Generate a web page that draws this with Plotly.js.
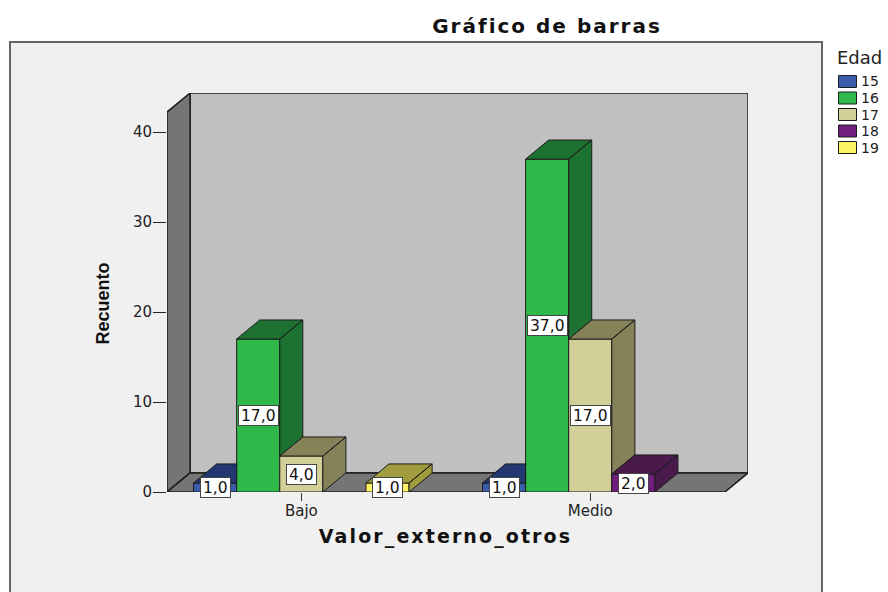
<!DOCTYPE html>
<html>
<head>
<meta charset="utf-8">
<script src="https://cdn.plot.ly/plotly-3.0.1.min.js"></script>
<style>
html,body{margin:0;padding:0;background:#fff;overflow:hidden}
#c{width:888px;height:592px}
.gtitle{letter-spacing:2px}
.xtitle{letter-spacing:2.1px;translate:-12px 0}
.ytitle{translate:0 11px}
</style>
</head>
<body>
<div id="c"></div>
<script>
// ---- data ----
const categories = ["Bajo", "Medio"];
const seriesNames = ["15", "16", "17", "18", "19"];
const edad15 = [1, 1];
const edad16 = [17, 37];
const edad17 = [4, 17];
const edad18 = [0, 2];
const edad19 = [1, 0];
const yTicks = [0, 10, 20, 30, 40];
const frontColors = ["#3b5cab", "#2fb94b", "#d3cf98", "#701f7c", "#fdf264"];
const depthColors = ["#233870", "#1d7232", "#858259", "#4b1a4c", "#a19d3e"];

// ---- chart geometry ----
const allSeries = [edad15, edad16, edad17, edad18, edad19];
const groupCenters = [3.116, 9.82];
const xMax = 13.48, yMax = 44.35;
const depthX = 0.535, depthY = 2.12;
const mL = 167, mR = 140, mT = 93, mB = 100;
const plotW = 888 - mL - mR, plotH = 592 - mT - mB;
const px = x => (x - mL) / plotW;
const py = y => (592 - mB - y) / plotH;
const ink = "#1c1c1c";
const font = "DejaVu Sans, sans-serif";
const fmt = v => v.toFixed(1).replace(".", ",");

const traces = [];
const annotations = [];

// front faces
allSeries.forEach((vals, s) => {
  const xs = [], ys = [];
  vals.forEach((v, g) => { if (v > 0) { xs.push(groupCenters[g] + s - 2); ys.push(v); } });
  traces.push({
    type: "bar", name: seriesNames[s], x: xs, y: ys, width: 1,
    marker: {color: frontColors[s], line: {color: ink, width: 1}},
    hoverinfo: "skip", showlegend: false
  });
});

// top and side faces
allSeries.forEach((vals, s) => {
  const xs = [], ys = [];
  vals.forEach((v, g) => {
    if (v <= 0) return;
    const l = groupCenters[g] + s - 2.5, r = l + 1;
    const next = s + 1 < allSeries.length ? allSeries[s + 1][g] : 0;
    if (next >= v) {
      xs.push(l, r, r, l + depthX, l, null);
      ys.push(v, v, v + depthY, v + depthY, v, null);
    } else {
      xs.push(l, r, r + depthX, l + depthX, l, null);
      ys.push(v, v, v + depthY, v + depthY, v, null);
      xs.push(r, r + depthX, r + depthX, r, r, null);
      ys.push(next, next + depthY, v + depthY, v, next, null);
    }
  });
  traces.push({
    type: "scatter", mode: "lines", x: xs, y: ys, fill: "toself", fillcolor: depthColors[s],
    line: {color: ink, width: 1}, showlegend: false, hoverinfo: "skip", connectgaps: false
  });
});

// value labels
allSeries.forEach((vals, s) => {
  vals.forEach((v, g) => {
    if (v <= 0) return;
    annotations.push({
      x: groupCenters[g] + s - 2, y: v / 2, xref: "x", yref: "y", text: fmt(v), showarrow: false,
      bgcolor: "#ffffff", bordercolor: "#444444", borderwidth: 1, borderpad: 2, height: 15,
      font: {family: font, size: 15.5, color: "#111"}
    });
  });
});

// walls, floor and the outer panel
const poly = (pts, fill) => ({
  type: "path", xref: "x", yref: "y", layer: "below", fillcolor: fill,
  line: {color: ink, width: 1.5},
  path: "M" + pts.map(p => p.join(",")).join("L") + "Z"
});
const shapes = [
  {type: "rect", xref: "paper", yref: "paper", layer: "below",
   x0: px(10), x1: px(822), y0: py(620), y1: py(42),
   fillcolor: "#f0f0f0", line: {color: "#666666", width: 2}},
  poly([[depthX, depthY], [xMax, depthY], [xMax, yMax], [depthX, yMax]], "#c0c0c0"),
  poly([[0, 0], [depthX, depthY], [depthX, yMax], [0, yMax - depthY]], "#757575"),
  poly([[0, 0], [xMax - depthX, 0], [xMax, depthY], [depthX, depthY]], "#757575")
];

// legend key (the library's own legend cannot set rows this tight)
annotations.push({
  xref: "paper", yref: "paper", x: px(835), y: py(57), xanchor: "left", yanchor: "middle",
  text: "Edad", showarrow: false, font: {family: font, size: 18, color: "#222"}
});
seriesNames.forEach((name, s) => {
  const cy = 81.5 + s * 16.5;
  shapes.push({type: "rect", xref: "paper", yref: "paper", layer: "above",
    x0: px(838.5), x1: px(856.5), y0: py(cy + 6), y1: py(cy - 6),
    fillcolor: frontColors[s], line: {color: ink, width: 1}});
  annotations.push({
    xref: "paper", yref: "paper", x: px(859), y: py(cy), xanchor: "left", yanchor: "middle",
    text: name, showarrow: false, height: 14, font: {family: font, size: 14, color: "#222"}
  });
});

const layout = {
  width: 888, height: 592,
  margin: {l: mL, r: mR, t: mT, b: mB},
  paper_bgcolor: "#ffffff", plot_bgcolor: "rgba(0,0,0,0)",
  barmode: "overlay", showlegend: false, hovermode: false,
  title: {text: "Gráfico de barras", x: 547 / 888, y: 1 - 26 / 592, xanchor: "center", yanchor: "middle",
          font: {family: font, size: 20, weight: "bold", color: "#111"}},
  xaxis: {
    range: [0, xMax], tickmode: "array", tickvals: groupCenters, ticktext: categories,
    ticks: "outside", ticklen: 8, tickcolor: "#333", tickwidth: 1, showgrid: false, zeroline: false, showline: false,
    ticklabelstandoff: -3,
    tickfont: {family: font, size: 15, color: "#222"},
    title: {text: "Valor_externo_otros", standoff: 10, font: {family: font, size: 19, weight: "bold", color: "#111"}}
  },
  yaxis: {
    range: [0, yMax], tickmode: "array", tickvals: yTicks, ticktext: yTicks.map(String),
    ticks: "outside", ticklen: 13, tickcolor: "#222", tickwidth: 1, showgrid: false, zeroline: false, showline: false,
    ticklabelstandoff: -2,
    tickfont: {family: font, size: 15, color: "#222"},
    title: {text: "Recuento", standoff: 18, font: {family: "Liberation Sans, sans-serif", size: 18, weight: "bold", color: "#111"}}
  },
  annotations, shapes
};
Plotly.newPlot("c", traces, layout, {displayModeBar: false, responsive: false});
</script>
</body>
</html>
